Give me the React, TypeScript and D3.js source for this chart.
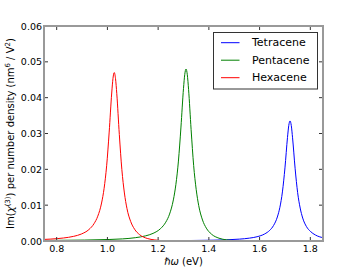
import React from "react";
import * as d3 from "d3";

// photon energy (eV) and Im chi(3) per number density
const tetraceneX = [0.75, 1.17, 1.32, 1.42, 1.47, 1.52, 1.56, 1.59, 1.62, 1.64, 1.655, 1.67, 1.68, 1.69, 1.70, 1.71, 1.715, 1.72, 1.725, 1.73, 1.74, 1.75, 1.76, 1.77, 1.785, 1.80, 1.82, 1.85];
const tetraceneY = [0.00002, 0.00007, 0.00013, 0.00023, 0.00033, 0.00052, 0.0008, 0.00119, 0.00197, 0.00298, 0.00432, 0.0067, 0.0094, 0.0137, 0.0204, 0.0289, 0.0322, 0.0335, 0.0322, 0.0288, 0.0203, 0.0135, 0.0092, 0.0064, 0.004, 0.0027, 0.00168, 0.00091];

const pentaceneX = [0.75, 0.91, 1.01, 1.06, 1.11, 1.15, 1.18, 1.21, 1.23, 1.245, 1.26, 1.27, 1.28, 1.29, 1.30, 1.305, 1.31, 1.315, 1.32, 1.33, 1.34, 1.35, 1.36, 1.375, 1.39, 1.41, 1.44, 1.47, 1.51, 1.56, 1.85];
const pentaceneY = [0.00015, 0.00026, 0.00043, 0.00059, 0.00092, 0.00143, 0.00213, 0.00349, 0.00524, 0.00751, 0.01146, 0.0158, 0.0223, 0.0318, 0.0426, 0.0465, 0.048, 0.0464, 0.0423, 0.0311, 0.0211, 0.0144, 0.00988, 0.00585, 0.00359, 0.00193, 0.00078, 0.00031, 0.00009, 0.00001, 0];

const hexaceneX = [0.75, 0.777, 0.827, 0.867, 0.897, 0.927, 0.947, 0.962, 0.977, 0.987, 0.997, 1.007, 1.017, 1.022, 1.027, 1.032, 1.037, 1.047, 1.057, 1.067, 1.077, 1.092, 1.107, 1.127, 1.157, 1.187, 1.227, 1.277, 1.327, 1.6, 1.85];
const hexaceneY = [0.00044, 0.00054, 0.00084, 0.0013, 0.00194, 0.00319, 0.00481, 0.00692, 0.0106, 0.0147, 0.021, 0.0304, 0.0413, 0.0454, 0.047, 0.0453, 0.0411, 0.0297, 0.0199, 0.0134, 0.0091, 0.0054, 0.0033, 0.00176, 0.00071, 0.00029, 0.00008, 0.00001, 0, 0, 0];

const seriesNames = ["Tetracene", "Pentacene", "Hexacene"];
const seriesColors = ["#0000ff", "#008000", "#ff0000"];

const xTicks = [0.8, 1.0, 1.2, 1.4, 1.6, 1.8];
const yTicks = [0.0, 0.01, 0.02, 0.03, 0.04, 0.05, 0.06];

const width = 360;
const height = 269;
const left = 44;
const right = 323;
const top = 26;
const bottom = 241;
const font = "DejaVu Sans, sans-serif";

export default function App() {
  const x = d3.scaleLinear().domain([0.75, 1.85]).range([left, right]);
  const y = d3.scaleLinear().domain([0, 0.06]).range([bottom, top]);

  const line = d3
    .line<[number, number]>()
    .x((d) => x(d[0]))
    .y((d) => y(d[1]))
    .curve(d3.curveMonotoneX);

  const series = [
    tetraceneX.map((v, i) => [v, tetraceneY[i]] as [number, number]),
    pentaceneX.map((v, i) => [v, pentaceneY[i]] as [number, number]),
    hexaceneX.map((v, i) => [v, hexaceneY[i]] as [number, number]),
  ];

  const legendX = 213.5;
  const legendY = 32.5;
  const rowGap = 17.5;

  return (
    <svg
      width={width}
      height={height}
      style={{ position: "absolute", left: 0, top: 0, background: "#fff" }}
      fontFamily={font}
    >
      <defs>
        <clipPath id="plot-clip">
          <rect x={left} y={top} width={right - left} height={bottom - top} />
        </clipPath>
      </defs>

      {/* data lines */}
      <g clipPath="url(#plot-clip)">
        {series.map((s, i) => (
          <path key={i} d={line(s) || ""} fill="none" stroke={seriesColors[i]} strokeWidth={1} />
        ))}
      </g>

      {/* ticks, inward on all four sides */}
      {xTicks.map((t) => (
        <g key={"x" + t}>
          <line x1={x(t)} x2={x(t)} y1={bottom} y2={bottom - 4} stroke="#333" />
          <line x1={x(t)} x2={x(t)} y1={top} y2={top + 4} stroke="#333" />
          <text x={x(t)} y={252} fontSize={9.5} textAnchor="middle">
            {d3.format(".1f")(t)}
          </text>
        </g>
      ))}
      {yTicks.map((t) => (
        <g key={"y" + t}>
          <line x1={left} x2={left + 4} y1={y(t)} y2={y(t)} stroke="#333" />
          <line x1={right} x2={right - 4} y1={y(t)} y2={y(t)} stroke="#333" />
          <text x={42} y={y(t)} fontSize={9.5} textAnchor="end" dominantBaseline="central">
            {d3.format(".2f")(t)}
          </text>
        </g>
      ))}

      {/* frame */}
      <rect x={left} y={top} width={right - left} height={bottom - top} fill="none" stroke="#999" strokeWidth={2} />

      {/* legend */}
      <rect x={legendX} y={legendY} width={104} height={56.5} fill="#fff" stroke="#333" strokeWidth={1} />
      {seriesNames.map((name, i) => (
        <g key={name} transform={`translate(0, ${legendY + 10.2 + i * rowGap})`}>
          <line x1={221} x2={239.5} y1={0} y2={0} stroke={seriesColors[i]} strokeWidth={1} />
          <text x={252} y={0} fontSize={11} dominantBaseline="central">
            {name}
          </text>
        </g>
      ))}

      {/* axis labels */}
      <text x={(left + right) / 2} y={265} fontSize={10} textAnchor="middle">
        <tspan fontStyle="italic">ℏω</tspan> (eV)
      </text>
      <text transform={`translate(14, ${(top + bottom) / 2}) rotate(-90)`} fontSize={10} textAnchor="middle">
        Im(<tspan fontStyle="italic">χ</tspan>
        <tspan fontSize={7} dy={-4}>(3)</tspan>
        <tspan dy={4}>) per number density (nm</tspan>
        <tspan fontSize={7} dy={-4}>6</tspan>
        <tspan dy={4}> / V</tspan>
        <tspan fontSize={7} dy={-4}>2</tspan>
        <tspan dy={4}>)</tspan>
      </text>
    </svg>
  );
}
